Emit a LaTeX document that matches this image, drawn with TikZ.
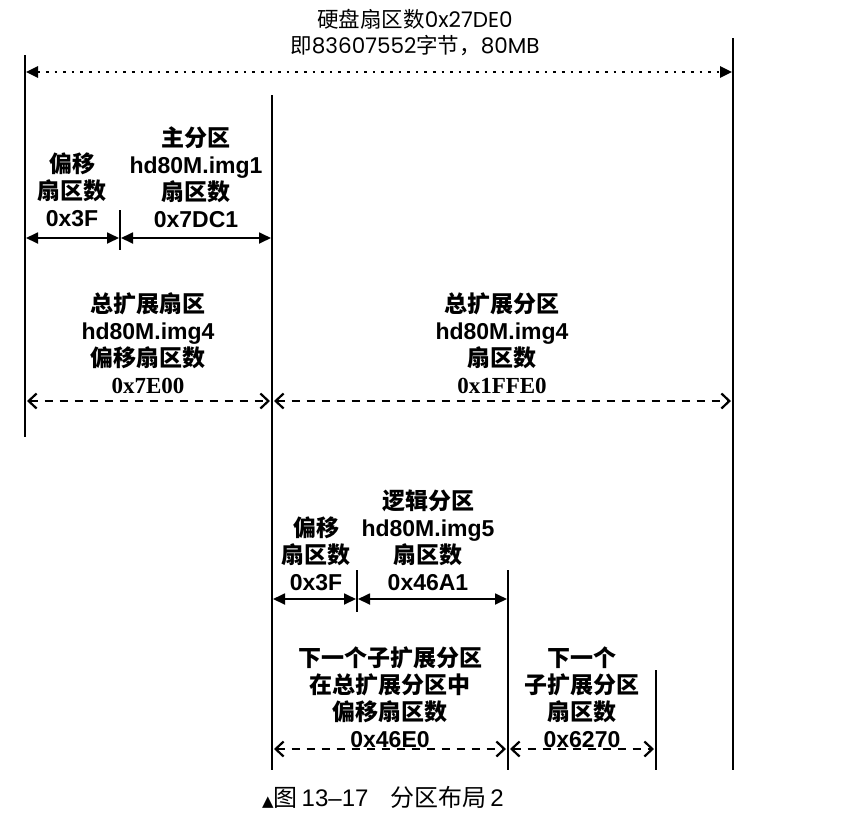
\documentclass[tikz,border=0pt]{standalone}
\usepackage{fontspec}
\setmainfont{Liberation Sans}
\newfontfamily\cjk{Noto Sans CJK SC}
\newfontfamily\geo{Poppins}
\newfontfamily\serifb{Liberation Serif}
\newfontfamily\symf{DejaVu Sans}
\usetikzlibrary{arrows.meta}
\tikzset{
  vline/.style={line width=1.8pt},
  solidarr/.style={line width=1.8pt, {Triangle[length=12pt,width=11pt]}-{Triangle[length=12pt,width=11pt]}},
  barb/.tip={Straight Barb[length=8pt,width=15pt,line width=2.2pt]},
  dasharr/.style={line width=1.8pt, dash pattern=on 8pt off 7pt, barb-barb},
  dotarr/.style={line width=2.6pt, dash pattern=on 2.6pt off 6pt,
    {Triangle[length=12pt,width=11pt]}-{Triangle[length=12pt,width=11pt]}},
  lbl/.style={font=\fontsize{23}{27}\selectfont\bfseries, align=center, inner sep=0pt},
  toplbl/.style={font=\fontsize{21.5}{26}\selectfont, align=center, inner sep=0pt},
  caplbl/.style={font=\fontsize{24}{26}\selectfont, inner sep=0pt}
}
\begin{document}
\begin{tikzpicture}[x=1pt,y=-1pt]
\useasboundingbox (0,0) rectangle (859,817);
% vertical lines
\coordinate (L1t) at (25,55);   \coordinate (L1b) at (25,437);
\coordinate (L2t) at (272,95);  \coordinate (L2b) at (272,770);
\coordinate (L3t) at (733,38);  \coordinate (L3b) at (733,770);
\coordinate (T1t) at (120,210); \coordinate (T1b) at (120,250);
\coordinate (T2t) at (357,570); \coordinate (T2b) at (357,612);
\coordinate (L4t) at (508,570); \coordinate (L4b) at (508,770);
\coordinate (L5t) at (656,670); \coordinate (L5b) at (656,770);
\draw[vline] (L1t) -- (L1b);
\draw[vline] (L2t) -- (L2b);
\draw[vline] (L3t) -- (L3b);
\draw[vline] (T1t) -- (T1b);
\draw[vline] (T2t) -- (T2b);
\draw[vline] (L4t) -- (L4b);
\draw[vline] (L5t) -- (L5b);
% arrow end points
\coordinate (a1l) at (26,72);   \coordinate (a1r) at (732,72);
\coordinate (a2l) at (26,238);  \coordinate (a2m) at (120,238); \coordinate (a2r) at (271,238);
\coordinate (a3l) at (26,401);  \coordinate (a3m) at (272,401); \coordinate (a3r) at (732,401);
\coordinate (a4l) at (273,599); \coordinate (a4m) at (357,599); \coordinate (a4r) at (507,599);
\coordinate (a5l) at (273,749); \coordinate (a5m) at (508,749); \coordinate (a5r) at (655,749);
\draw[dotarr] (a1l) -- (a1r);
\draw[solidarr] (a2l) -- ([xshift=-1pt]a2m);
\draw[solidarr] ([xshift=1pt]a2m) -- (a2r);
\draw[dasharr] ([xshift=1pt]a3l) -- ([xshift=-2pt]a3m);
\draw[dasharr] ([xshift=2pt]a3m) -- ([xshift=-1pt]a3r);
\draw[solidarr] (a4l) -- ([xshift=-1pt]a4m);
\draw[solidarr] ([xshift=1pt]a4m) -- (a4r);
\draw[dasharr] ([xshift=1pt]a5l) -- ([xshift=-2pt]a5m);
\draw[dasharr] ([xshift=2pt]a5m) -- ([xshift=-1pt]a5r);
% labels
\node[toplbl] (top) at (415,33) {{\cjk 硬盘扇区数}{\geo 0x27DE0}\\{\cjk 即}{\geo 83607552}{\cjk 字节，}{\geo 80MB}};
\node[lbl] (off1) at (72,190) {{\cjk 偏移}\\{\cjk 扇区数}\\0x3F};
\node[lbl] (pri) at (196,177) {{\cjk 主分区}\\hd80M.img1\\{\cjk 扇区数}\\0x7DC1};
\node[lbl] (extoff) at (148,343) {{\cjk 总扩展扇区}\\hd80M.img4\\{\cjk 偏移扇区数}\\{\serifb 0x7E00}};
\node[lbl] (ext) at (502,343) {{\cjk 总扩展分区}\\hd80M.img4\\{\cjk 扇区数}\\{\serifb 0x1FFE0}};
\node[lbl] (off2) at (316,554) {{\cjk 偏移}\\{\cjk 扇区数}\\0x3F};
\node[lbl] (log) at (428,540) {{\cjk 逻辑分区}\\hd80M.img5\\{\cjk 扇区数}\\0x46A1};
\node[lbl] (nxtoff) at (390,697) {{\cjk 下一个子扩展分区}\\{\cjk 在总扩展分区中}\\{\cjk 偏移扇区数}\\0x46E0};
\node[lbl] (nxt) at (582,697) {{\cjk 下一个}\\{\cjk 子扩展分区}\\{\cjk 扇区数}\\0x6270};
\node[caplbl] (cap) at (383,797) {{\symf\fontsize{15}{16}\selectfont ▲}{\cjk 图}\,13–17\hspace{22pt}{\cjk 分区布局}\,2};
\end{tikzpicture}
\end{document}
